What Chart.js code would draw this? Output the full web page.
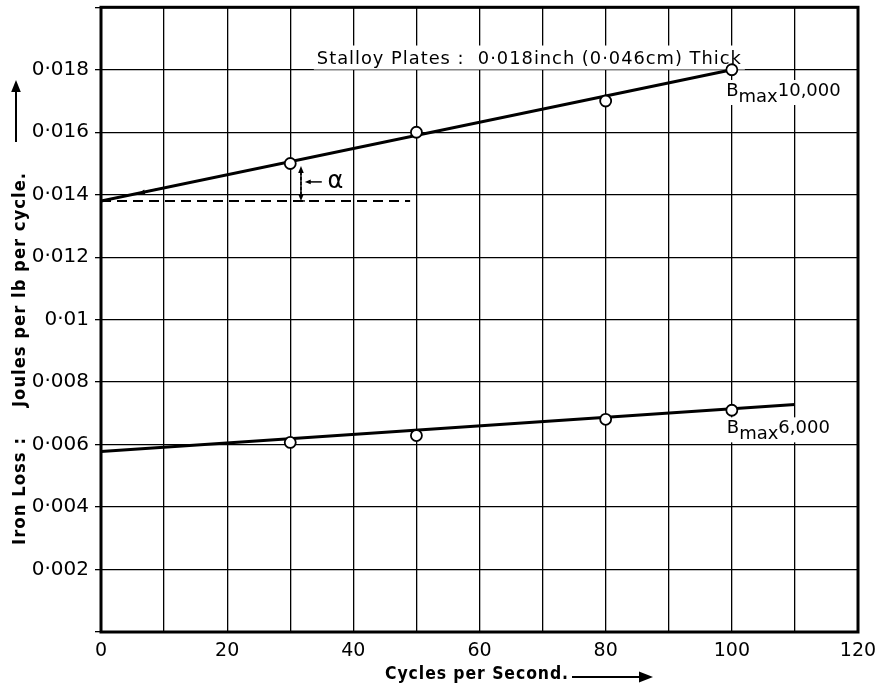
<!DOCTYPE html>
<html>
<head>
<meta charset="utf-8">
<script src="https://cdn.jsdelivr.net/npm/chart.js@4.4.1/dist/chart.umd.min.js"></script>
<style>
  html, body { margin: 0; padding: 0; background: #fff; }
  canvas { display: block; }
</style>
</head>
<body>
<canvas id="chart" width="878" height="685"></canvas>
<script>
// Iron loss in Stalloy plates, 0.018 inch thick
const freq = [30, 50, 80, 100];
const loss10000 = [0.0150, 0.0160, 0.0170, 0.0180];
const loss6000 = [0.00607, 0.00629, 0.00681, 0.0071];

// straight lines drawn through the points
const fit10000X = [0, 100];
const fit10000Y = [0.0138, 0.0180];
const fit6000X = [0, 110];
const fit6000Y = [0.00578, 0.00728];
const interceptX = [0, 49];
const interceptY = [0.0138, 0.0138];

const xTickLabels = ['0', '', '20', '', '40', '', '60', '', '80', '', '100', '', '120'];
const yTickLabels = ['', '0·002', '0·004', '0·006', '0·008', '0·01', '0·012', '0·014', '0·016', '0·018', ''];

const toPoints = (xs, ys) => xs.map((x, i) => ({ x: x, y: ys[i] }));

const FONT = 'DejaVu Sans';
Chart.defaults.font.family = FONT;
Chart.defaults.color = '#000';

function arrow(ctx, x1, y1, x2, y2, head) {
    const a = Math.atan2(y2 - y1, x2 - x1);
    ctx.beginPath();
    ctx.moveTo(x1, y1);
    ctx.lineTo(x2 - Math.cos(a) * head * 0.6, y2 - Math.sin(a) * head * 0.6);
    ctx.stroke();
    ctx.beginPath();
    ctx.moveTo(x2, y2);
    ctx.lineTo(x2 - head * Math.cos(a) + head * 0.4 * Math.sin(a), y2 - head * Math.sin(a) - head * 0.4 * Math.cos(a));
    ctx.lineTo(x2 - head * Math.cos(a) - head * 0.4 * Math.sin(a), y2 - head * Math.sin(a) + head * 0.4 * Math.cos(a));
    ctx.closePath();
    ctx.fill();
}

function bmaxLabel(ctx, x, y, value) {
    ctx.font = '18px ' + FONT;
    ctx.textAlign = 'left';
    ctx.textBaseline = 'alphabetic';
    const wB = ctx.measureText('B').width;
    const wM = ctx.measureText('max').width;
    const wV = ctx.measureText(value).width;
    ctx.fillStyle = '#fff';
    ctx.fillRect(x - 2, y - 16, wB + wM + wV + 5, 25);
    ctx.fillStyle = '#000';
    ctx.fillText('B', x, y);
    ctx.fillText('max', x + wB, y + 6);
    ctx.fillText(value, x + wB + wM, y);
}

const decorations = {
    id: 'decorations',
    beforeDatasetsDraw(chart) {
        const { ctx, scales: { x, y } } = chart;
        ctx.save();
        // heading inside the grid
        ctx.font = '18px ' + FONT;
        ctx.letterSpacing = '1px';
        ctx.textAlign = 'center';
        ctx.textBaseline = 'alphabetic';
        const title = 'Stalloy Plates :  0·018inch (0·046cm) Thick';
        const tx = x.getPixelForValue(67.9), ty = y.getPixelForValue(0.0182);
        const tw = Math.min(ctx.measureText(title).width, 425);
        ctx.fillStyle = '#fff';
        ctx.fillRect(tx - tw / 2 - 3, ty - 18, tw + 6, 24);
        ctx.fillStyle = '#000';
        ctx.fillText(title, tx, ty, 425);
        ctx.letterSpacing = '0px';

        bmaxLabel(ctx, x.getPixelForValue(99.1), y.getPixelForValue(0.01716), '10,000');
        bmaxLabel(ctx, x.getPixelForValue(99.2), y.getPixelForValue(0.00636), '6,000');

        // alpha: rise between the dashed intercept and the line
        ctx.strokeStyle = '#000';
        ctx.fillStyle = '#000';
        ctx.lineWidth = 1.5;
        const ax = x.getPixelForValue(31.7);
        const yTop = y.getPixelForValue(0.01492), yBot = y.getPixelForValue(0.0138);
        const yMid = (yTop + yBot) / 2;
        ctx.setLineDash([3, 2]);
        ctx.beginPath();
        ctx.moveTo(ax, yTop + 6);
        ctx.lineTo(ax, yBot - 6);
        ctx.stroke();
        ctx.setLineDash([]);
        arrow(ctx, ax, yMid, ax, yTop, 7);
        arrow(ctx, ax, yMid, ax, yBot, 7);
        ctx.beginPath();
        ctx.moveTo(ax - 4, yBot);
        ctx.lineTo(ax + 4, yBot);
        ctx.stroke();
        arrow(ctx, x.getPixelForValue(35.0), y.getPixelForValue(0.01441), x.getPixelForValue(32.3), y.getPixelForValue(0.01441), 6);
        ctx.font = '24px ' + FONT;
        ctx.textAlign = 'left';
        ctx.textBaseline = 'middle';
        ctx.fillText('α', x.getPixelForValue(35.9), y.getPixelForValue(0.01441));

        // small arrow on the upper line near the axis
        ctx.lineWidth = 1.5;
        arrow(ctx, x.getPixelForValue(9), y.getPixelForValue(0.01418), x.getPixelForValue(6), y.getPixelForValue(0.01405), 6);
        ctx.restore();
    },
    afterDraw(chart) {
        const { ctx, chartArea: a } = chart;
        ctx.save();
        ctx.strokeStyle = '#000';
        ctx.fillStyle = '#000';
        ctx.lineWidth = 3;
        ctx.strokeRect(a.left, a.top, a.right - a.left, a.bottom - a.top);

        // y axis title, rotated
        ctx.translate(25, 0);
        ctx.rotate(-Math.PI / 2);
        ctx.font = 'bold 17px ' + FONT;
        ctx.textAlign = 'left';
        ctx.textBaseline = 'alphabetic';
        ctx.letterSpacing = '1px';
        ctx.fillText('Iron Loss :', -545, 0, 108);
        ctx.fillText('Joules per lb per cycle.', -407, 0, 235);
        ctx.restore();

        ctx.save();
        ctx.lineWidth = 2;
        ctx.fillStyle = '#000';
        ctx.strokeStyle = '#000';
        arrow(ctx, 16, 142, 16, 80, 12);

        // x axis title
        ctx.font = 'bold 17px ' + FONT;
        ctx.textAlign = 'left';
        ctx.textBaseline = 'middle';
        ctx.letterSpacing = '1px';
        ctx.fillText('Cycles per Second.', 385, 675, 184);
        arrow(ctx, 572, 677, 653, 677, 14);
        ctx.restore();
    }
};

new Chart(document.getElementById('chart'), {
    type: 'scatter',
    data: {
        datasets: [
            {
                data: toPoints(freq, loss10000),
                showLine: false,
                pointRadius: 5.5,
                pointBackgroundColor: '#fff',
                pointBorderColor: '#000',
                pointBorderWidth: 1.8,
                order: 0
            },
            {
                data: toPoints(freq, loss6000),
                showLine: false,
                pointRadius: 5.5,
                pointBackgroundColor: '#fff',
                pointBorderColor: '#000',
                pointBorderWidth: 1.8,
                order: 0
            },
            {
                data: toPoints(fit10000X, fit10000Y),
                showLine: true,
                borderColor: '#000',
                borderWidth: 3,
                pointRadius: 0,
                order: 1
            },
            {
                data: toPoints(fit6000X, fit6000Y),
                showLine: true,
                borderColor: '#000',
                borderWidth: 3,
                pointRadius: 0,
                order: 1
            },
            {
                data: toPoints(interceptX, interceptY),
                showLine: true,
                borderColor: '#000',
                borderWidth: 2,
                borderDash: [10, 6],
                pointRadius: 0,
                order: 1
            }
        ]
    },
    options: {
        responsive: false,
        animation: false,
        layout: { padding: { top: 6, right: 20, left: 0, bottom: 0 } },
        plugins: {
            legend: { display: false },
            tooltip: { enabled: false }
        },
        scales: {
            x: {
                type: 'linear',
                min: 0,
                max: 120,
                afterFit: (s) => {
                    s.height = 53;
                    s.paddingLeft = 0;
                    s.paddingRight = 0;
                },
                ticks: {
                    stepSize: 10,
                    autoSkip: false,
                    maxRotation: 0,
                    padding: 8,
                    font: { size: 19 },
                    callback: (v, i) => xTickLabels[i]
                },
                grid: { color: '#000', lineWidth: 1.3, drawTicks: false },
                border: { display: false }
            },
            y: {
                min: 0,
                max: 0.02,
                afterFit: (s) => {
                    s.width = 101;
                    s.paddingTop = 0;
                    s.paddingBottom = 0;
                },
                ticks: {
                    stepSize: 0.002,
                    autoSkip: false,
                    padding: 6,
                    font: { size: 20 },
                    callback: (v, i) => yTickLabels[i]
                },
                grid: { color: '#000', lineWidth: 1.3, tickLength: 6 },
                border: { display: false }
            }
        }
    },
    plugins: [decorations]
});
</script>
</body>
</html>
